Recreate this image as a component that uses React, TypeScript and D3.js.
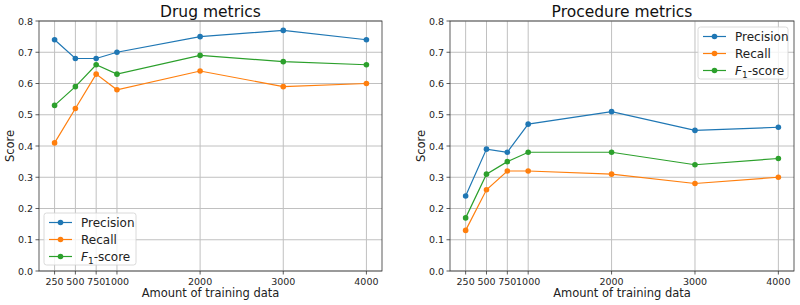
import React from "react";
import * as d3 from "d3";

const sizes = [250, 500, 750, 1000, 2000, 3000, 4000];
const drugPrecision = [0.74, 0.68, 0.68, 0.70, 0.75, 0.77, 0.74];
const drugRecall = [0.41, 0.52, 0.63, 0.58, 0.64, 0.59, 0.60];
const drugF1 = [0.53, 0.59, 0.66, 0.63, 0.69, 0.67, 0.66];
const procPrecision = [0.24, 0.39, 0.38, 0.47, 0.51, 0.45, 0.46];
const procRecall = [0.13, 0.26, 0.32, 0.32, 0.31, 0.28, 0.30];
const procF1 = [0.17, 0.31, 0.35, 0.38, 0.38, 0.34, 0.36];
const yTicks = [0, 0.1, 0.2, 0.3, 0.4, 0.5, 0.6, 0.7, 0.8];
const seriesNames = ["Precision", "Recall", "F1-score"];
const colors = ["#1f77b4", "#ff7f0e", "#2ca02c"];

const FONT = "DejaVu Sans, sans-serif";

type PanelProps = {
  x0: number;
  x1: number;
  title: string;
  series: number[][];
  legend: { x: number; y: number; w: number; h: number };
};

function LegendLabel({ name }: { name: string }) {
  if (name === "F1-score") {
    return (
      <>
        <tspan fontStyle="italic">F</tspan>
        <tspan fontSize={9} dy={3}>1</tspan>
        <tspan dy={-3}>-score</tspan>
      </>
    );
  }
  return <>{name}</>;
}

function Panel({ x0, x1, title, series, legend }: PanelProps) {
  const top = 21;
  const bottom = 271;
  const x = d3.scaleLinear().domain([62.5, 4187.5]).range([x0, x1]);
  const y = d3.scaleLinear().domain([0, 0.8]).range([bottom, top]);
  const line = d3
    .line<number>()
    .x((_, i) => x(sizes[i]))
    .y((d) => y(d));
  return (
    <g fontFamily={FONT}>
      {sizes.map((s) => (
        <line key={"gx" + s} x1={x(s)} x2={x(s)} y1={top} y2={bottom} stroke="#c0c0c0" strokeWidth={1} />
      ))}
      {yTicks.map((t) => (
        <line key={"gy" + t} x1={x0} x2={x1} y1={y(t)} y2={y(t)} stroke="#c0c0c0" strokeWidth={1} />
      ))}
      {series.map((vals, si) => (
        <g key={"s" + si}>
          <path d={line(vals) || ""} fill="none" stroke={colors[si]} strokeWidth={1.2} />
          {vals.map((v, i) => (
            <circle key={i} cx={x(sizes[i])} cy={y(v)} r={2.8} fill={colors[si]} />
          ))}
        </g>
      ))}
      <rect x={x0} y={top} width={x1 - x0} height={bottom - top} fill="none" stroke="#333" strokeWidth={0.8} />
      {sizes.map((s) => (
        <g key={"tx" + s}>
          <line x1={x(s)} x2={x(s)} y1={bottom} y2={bottom + 3.5} stroke="#333" strokeWidth={0.8} />
          <text x={x(s)} y={bottom + 14} fontSize={9.5} textAnchor="middle" fill="#262626">{s}</text>
        </g>
      ))}
      {yTicks.map((t) => (
        <g key={"ty" + t}>
          <line x1={x0 - 3.5} x2={x0} y1={y(t)} y2={y(t)} stroke="#333" strokeWidth={0.8} />
          <text x={x0 - 6} y={y(t) + 3.5} fontSize={9.5} textAnchor="end" fill="#262626">{t.toFixed(1)}</text>
        </g>
      ))}
      <text x={(x0 + x1) / 2} y={17} fontSize={15.5} textAnchor="middle" fill="#111">{title}</text>
      <text x={(x0 + x1) / 2} y={297} fontSize={11.5} textAnchor="middle" fill="#222">Amount of training data</text>
      <text transform={`translate(${x0 - 25},${(top + bottom) / 2}) rotate(-90)`} fontSize={11.5} textAnchor="middle" fill="#222">Score</text>
      <rect x={legend.x} y={legend.y} width={legend.w} height={legend.h} rx={2.5} fill="white" fillOpacity={0.8} stroke="#d0d0d0" strokeWidth={0.8} />
      {seriesNames.map((n, i) => {
        const ry = legend.y + 9.5 + i * 17;
        return (
          <g key={n}>
            <line x1={legend.x + 5} x2={legend.x + 28} y1={ry} y2={ry} stroke={colors[i]} strokeWidth={1.2} />
            <circle cx={legend.x + 16.5} cy={ry} r={2.8} fill={colors[i]} />
            <text x={legend.x + 37} y={ry + 4.5} fontSize={12} fill="#222">
              <LegendLabel name={n} />
            </text>
          </g>
        );
      })}
    </g>
  );
}

export default function App() {
  return (
    <svg width={800} height={305} style={{ position: "absolute", left: 0, top: 0, background: "white" }}>
      <rect width={800} height={305} fill="white" />
      <Panel
        x0={39}
        x1={382}
        title="Drug metrics"
        series={[drugPrecision, drugRecall, drugF1]}
        legend={{ x: 44, y: 213, w: 92, h: 52 }}
      />
      <Panel
        x0={450}
        x1={794}
        title="Procedure metrics"
        series={[procPrecision, procRecall, procF1]}
        legend={{ x: 698, y: 27, w: 90, h: 52 }}
      />
    </svg>
  );
}
